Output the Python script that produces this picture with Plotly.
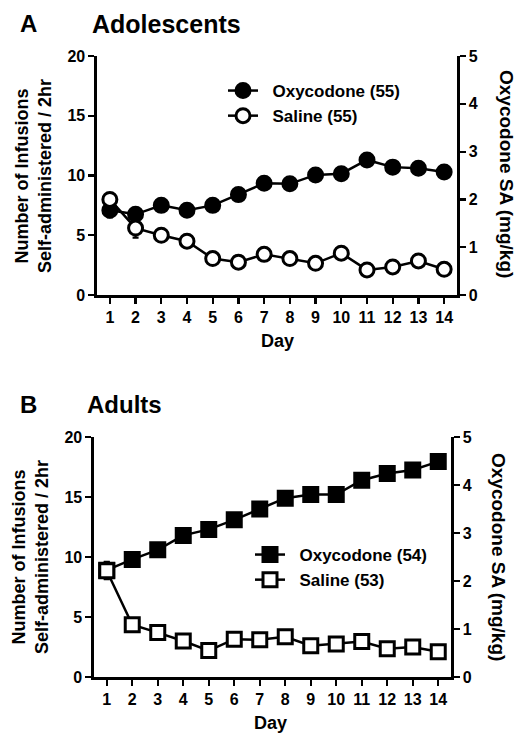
import plotly.graph_objects as go

days = list(range(1, 15))
day_labels = [f"<b>{d}</b>" for d in days]

# Panel A: Adolescents
adol_oxy = [7.1, 6.75, 7.5, 7.1, 7.5, 8.4, 9.35, 9.3, 10.05, 10.15, 11.3, 10.7, 10.6, 10.3]
adol_oxy_err = [0.6, 0.3, 0.3, 0.3, 0.3, 0.3, 0.3, 0.4, 0.4, 0.4, 0.4, 0.3, 0.3, 0.3]
adol_sal = [8.0, 5.6, 5.0, 4.5, 3.05, 2.75, 3.4, 3.05, 2.65, 3.5, 2.1, 2.35, 2.85, 2.15]
adol_sal_err = [0.5, 0.8, 0.3, 0.3, 0.3, 0.3, 0.3, 0.3, 0.3, 0.3, 0.3, 0.3, 0.3, 0.3]

# Panel B: Adults
adult_oxy = [8.9, 9.8, 10.6, 11.8, 12.3, 13.1, 14.0, 14.9, 15.2, 15.2, 16.4, 16.95, 17.25, 17.95]
adult_oxy_err = [0.7, 0.3, 0.3, 0.3, 0.3, 0.3, 0.3, 0.3, 0.3, 0.3, 0.4, 0.5, 0.4, 0.4]
adult_sal = [8.85, 4.35, 3.7, 3.0, 2.2, 3.15, 3.1, 3.35, 2.6, 2.75, 2.95, 2.35, 2.5, 2.1]
adult_sal_err = [0.7, 0.3, 0.3, 0.3, 0.3, 0.3, 0.3, 0.3, 0.3, 0.3, 0.3, 0.3, 0.3, 0.3]

left_ticks = [0, 5, 10, 15, 20]
right_ticks = [0, 1, 2, 3, 4, 5]

FONT = "Liberation Sans, Arial, sans-serif"
BLACK = "#000000"
NB = "\u00a0\u00a0"

fig = go.Figure()

def add_series(x, y, err, name, symbol, filled, xa, ya, legend):
    fig.add_trace(go.Scatter(
        x=x, y=y, name=NB + "<b>" + name + "</b>", mode="lines+markers",
        xaxis=xa, yaxis=ya, legend=legend,
        line=dict(color=BLACK, width=2.5),
        marker=dict(symbol=symbol, size=14,
                    color=BLACK if filled else "white",
                    line=dict(color=BLACK, width=3)),
        error_y=dict(type="data", array=err, color=BLACK, thickness=2.2, width=3),
    ))

add_series(days, adol_oxy, adol_oxy_err, "Oxycodone (55)", "circle", True, "x", "y", "legend")
add_series(days, adol_sal, adol_sal_err, "Saline (55)", "circle", False, "x", "y", "legend")
add_series(days, adult_oxy, adult_oxy_err, "Oxycodone (54)", "square", True, "x2", "y3", "legend2")
add_series(days, adult_sal, adult_sal_err, "Saline (53)", "square", False, "x2", "y3", "legend2")

# invisible traces to anchor right axes
fig.add_trace(go.Scatter(x=[None], y=[None], xaxis="x", yaxis="y2", showlegend=False, hoverinfo="skip"))
fig.add_trace(go.Scatter(x=[None], y=[None], xaxis="x2", yaxis="y4", showlegend=False, hoverinfo="skip"))

tickfont = dict(family=FONT, size=16, color=BLACK)

common = dict(ticks="outside", ticklen=6, tickwidth=2.2, tickcolor=BLACK,
              showline=True, linewidth=2.6, linecolor=BLACK,
              showgrid=False, zeroline=False, tickfont=tickfont,
              automargin=False, fixedrange=True)

def xaxis(domain, anchor):
    return dict(domain=domain, anchor=anchor, range=[0.5, 14.5],
                tickmode="array", tickvals=days, ticktext=day_labels, **common)

def yleft(domain, anchor):
    return dict(domain=domain, anchor=anchor, range=[0, 20],
                tickmode="array", tickvals=left_ticks,
                ticktext=[f"<b>{t}</b>" for t in left_ticks], **common)

def yright(overlay, anchor):
    return dict(overlaying=overlay, anchor=anchor, side="right", range=[0, 5],
                tickmode="array", tickvals=right_ticks,
                ticktext=[f"<b>{t}</b>" for t in right_ticks], **common)

legfont = dict(family=FONT, size=17, color=BLACK)

def ann(text, x, y, size, angle=0, xanchor="center"):
    return dict(text=text, x=x/528, y=1-y/744, xref="paper", yref="paper",
                xanchor=xanchor, yanchor="middle", showarrow=False, textangle=angle,
                font=dict(family=FONT, size=size, color=BLACK))

fig.update_layout(
    width=528, height=744,
    margin=dict(l=0, r=0, t=0, b=0),
    paper_bgcolor="white", plot_bgcolor="white",
    showlegend=True,
    xaxis=xaxis([97/528, 457/528], "y"),
    yaxis=yleft([1-295/744, 1-56/744], "x"),
    yaxis2=yright("y", "x"),
    xaxis2=xaxis([94/528, 451/528], "y3"),
    yaxis3=yleft([1-677/744, 1-437/744], "x2"),
    yaxis4=yright("y3", "x2"),
    legend=dict(x=223/528, y=1-73/744, xanchor="left", yanchor="top",
                font=legfont, bgcolor="rgba(0,0,0,0)", tracegroupgap=0,
                itemwidth=30),
    legend2=dict(x=250/528, y=1-537/744, xanchor="left", yanchor="top",
                 font=legfont, bgcolor="rgba(0,0,0,0)", tracegroupgap=0,
                 itemwidth=30),
    annotations=[
        ann("<b>A</b>", 18, 24, 24, xanchor="left"),
        ann("<b>Adolescents</b>", 90, 24, 25, xanchor="left"),
        ann("<b>B</b>", 18, 404, 24, xanchor="left"),
        ann("<b>Adults</b>", 85, 404, 24, xanchor="left"),
        ann("<b>Number of Infusions<br>Self-administered / 2hr</b>", 33, 176, 18, angle=-90),
        ann("<b>Oxycodone SA (mg/kg)</b>", 507, 174, 19, angle=90),
        ann("<b>Day</b>", 277, 341, 18),
        ann("<b>Number of Infusions<br>Self-administered / 2hr</b>", 30, 557, 18, angle=-90),
        ann("<b>Oxycodone SA (mg/kg)</b>", 499, 557, 19, angle=90),
        ann("<b>Day</b>", 270, 723, 18),
    ],
)

fig.write_html("out.html",
               config={"displayModeBar": False, "staticPlot": True},
               post_script="document.body.style.margin='0';document.body.style.overflow='hidden';")
